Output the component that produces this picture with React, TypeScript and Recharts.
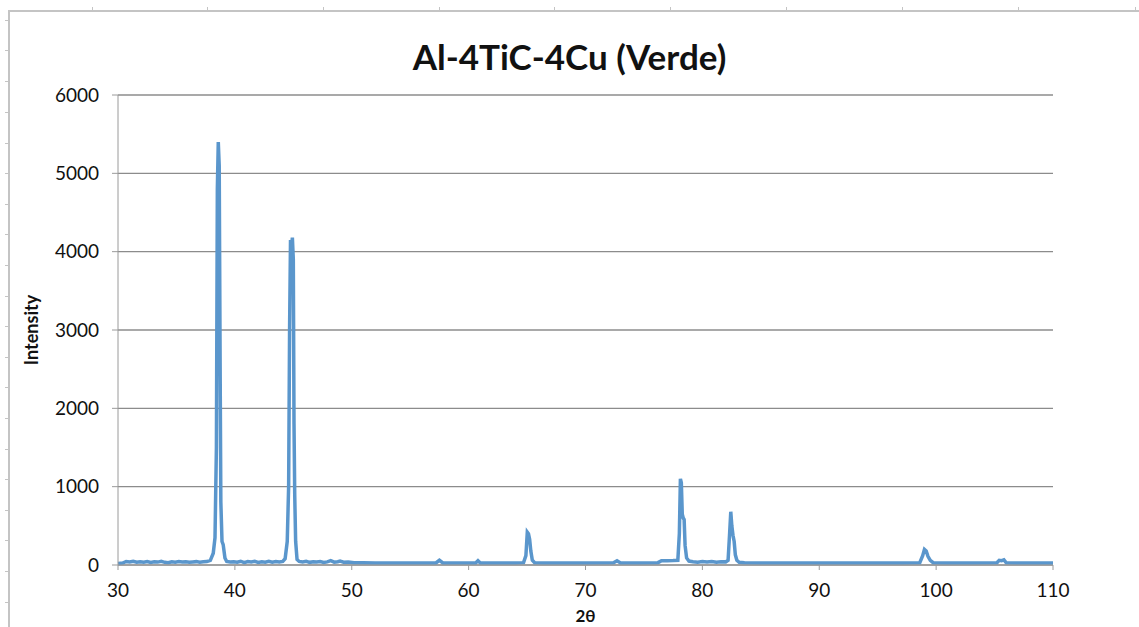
import React from 'react';
import { LineChart, Line, XAxis, YAxis, CartesianGrid, Label } from 'recharts';

const angles = [
  30.0, 30.4, 30.7, 31.0, 31.3, 31.6, 31.9, 32.2, 32.5, 32.8, 33.1, 33.4, 33.7, 34.0, 34.3, 34.6, 34.9,
  35.2, 35.5, 35.8, 36.1, 36.4, 36.7, 37.0, 37.3, 37.6, 37.9, 38.15, 38.3, 38.42, 38.5, 38.58, 38.66,
  38.74, 38.8, 38.9, 39.0, 39.15, 39.3, 39.6, 39.9, 40.2, 40.5, 40.8, 41.1, 41.4, 41.7, 42.0, 42.3,
  42.6, 42.9, 43.2, 43.5, 43.8, 44.1, 44.3, 44.48, 44.6, 44.68, 44.76, 44.84, 44.92, 45.0, 45.06,
  45.12, 45.2, 45.32, 45.5, 45.8, 46.1, 46.4, 46.7, 47.0, 47.3, 47.6, 47.9, 48.2, 48.5, 48.8, 49.0,
  49.3, 49.7, 50.2, 51.0, 52.0, 53.0, 54.0, 55.0, 56.0, 57.2, 57.5, 57.8, 59.0, 60.6, 60.8, 61.0,
  62.5, 64.0, 64.7, 64.9, 65.02, 65.12, 65.22, 65.32, 65.45, 65.65, 66.5, 68.0, 70.0, 72.4, 72.7,
  73.0, 74.5, 76.2, 76.5, 77.0, 77.5, 77.9, 78.03, 78.12, 78.2, 78.28, 78.36, 78.44, 78.52, 78.65,
  78.85, 79.2, 79.6, 80.0, 80.4, 80.8, 81.2, 81.6, 82.0, 82.2, 82.33, 82.43, 82.52, 82.62, 82.72,
  82.82, 82.95, 83.15, 83.6, 85.0, 88.0, 91.0, 94.0, 97.0, 98.6, 98.85, 99.0, 99.15, 99.3, 99.5,
  99.75, 101.0, 103.0, 105.2, 105.4, 105.6, 105.8, 106.0, 108.0, 110.0,
];

const intensity = [
  20, 25, 45, 38, 48, 35, 42, 36, 44, 33, 40, 37, 46, 34, 30, 42, 36,
  45, 38, 41, 34, 39, 43, 36, 40, 44, 60, 150, 350, 1500, 4800, 5400, 5100,
  2500, 800, 300, 260, 90, 45, 38, 42, 35, 48, 30, 44, 38, 46, 33, 41,
  36, 47, 35, 43, 38, 45, 80, 300, 1000, 3000, 4150, 4050, 4180, 3900, 1800,
  900, 300, 70, 45, 38, 46, 34, 42, 37, 44, 33, 40, 55, 36, 42, 50,
  35, 38, 30, 28, 26, 25, 25, 24, 25, 26, 60, 27, 25, 26, 55, 26,
  25, 25, 30, 120, 420, 400, 330, 180, 60, 28, 25, 25, 25, 28, 55,
  27, 25, 30, 55, 55, 57, 60, 400, 1100, 1050, 650, 600, 580, 250, 90,
  50, 42, 35, 44, 38, 45, 36, 42, 40, 60, 400, 680, 500, 380, 300,
  130, 60, 35, 28, 25, 25, 25, 25, 25, 30, 120, 200, 180, 110, 60,
  30, 25, 25, 28, 60, 55, 65, 28, 25, 25,
];

const xTicks = [30, 40, 50, 60, 70, 80, 90, 100, 110];
const yTicks = [0, 1000, 2000, 3000, 4000, 5000, 6000];

const data = angles.map((a, i) => ({ angle: a, value: intensity[i] }));

const FONT = 'Lato, "Open Sans", sans-serif';
const sideTicks = [20, 50, 81, 112, 143, 173, 204, 234, 265, 296, 326, 357, 387, 418, 449, 479, 510, 540, 571, 602];
const topTicks = [92, 207, 323, 439, 554, 670, 786, 902, 1018, 1135];

export default function App() {
  return (
    <div style={{ position: 'absolute', left: 0, top: 0, width: 1139, height: 627, background: '#fff', overflow: 'hidden' }}>
      {/* worksheet frame */}
      <div style={{ position: 'absolute', left: 8, top: 10, width: 1140, height: 640, borderLeft: '2px solid #c4c4c4', borderTop: '2px solid #c4c4c4' }} />
      {sideTicks.map((y) => (
        <div key={'s' + y} style={{ position: 'absolute', left: 5, top: y, width: 4, height: 1, background: '#c4c4c4' }} />
      ))}
      {topTicks.map((x) => (
        <div key={'t' + x} style={{ position: 'absolute', left: x, top: 7, width: 1, height: 4, background: '#c4c4c4' }} />
      ))}
      <div style={{ position: 'absolute', left: 0, width: 1139, top: 39, lineHeight: 1, textAlign: 'center', paddingLeft: 0, fontFamily: FONT, fontWeight: 700, fontSize: 35, color: '#111' }}>
        Al-4TiC-4Cu (Verde)
      </div>
      <LineChart
        width={1139}
        height={627}
        data={data}
        margin={{ top: 95, right: 86, bottom: 32, left: 30 }}
        style={{ position: 'absolute', left: 0, top: 0 }}
      >
        <CartesianGrid horizontal vertical={false} stroke="#8c8c8c" strokeWidth={1.3} />
        <XAxis
          dataKey="angle"
          type="number"
          domain={[30, 110]}
          ticks={xTicks}
          height={30}
          stroke="#9a9a9a"
          tickSize={5}
          tick={{ fontFamily: FONT, fontSize: 19, fill: '#111' }}
          tickMargin={14}
        >
          <Label value="2θ" position="insideBottom" offset={-27} style={{ fontFamily: FONT, fontWeight: 700, fontSize: 17, fill: '#111' }} />
        </XAxis>
        <YAxis
          type="number"
          domain={[0, 6000]}
          ticks={yTicks}
          width={88}
          stroke="#9a9a9a"
          tickSize={6}
          tickMargin={13}
          tick={{ fontFamily: FONT, fontSize: 19, fill: '#111' }}
        >
          <Label value="Intensity" angle={-90} position="insideLeft" offset={0} dx={2} style={{ fontFamily: FONT, fontWeight: 700, fontSize: 18, fill: '#111', textAnchor: 'middle' }} />
        </YAxis>
        <Line
          type="linear"
          dataKey="value"
          stroke="#5a96cc"
          strokeWidth={3.5}
          dot={false}
          isAnimationActive={false}
        />
      </LineChart>
    </div>
  );
}
